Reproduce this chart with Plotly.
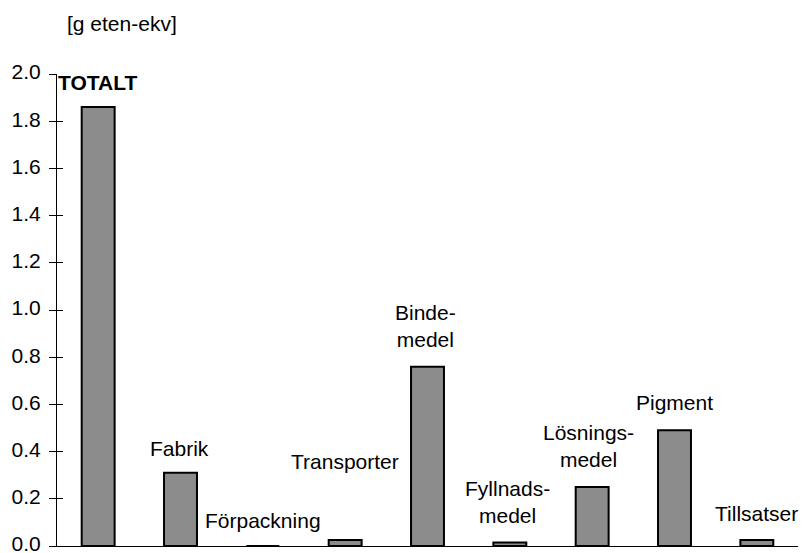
import plotly.graph_objects as go

# Emission contributions per process step [g eten-ekv]
categories = ["TOTALT", "Fabrik", "Förpackning", "Transporter", "Bindemedel",
              "Fyllnadsmedel", "Lösningsmedel", "Pigment", "Tillsatser"]
values = [1.86, 0.31, 0.0, 0.025, 0.76, 0.015, 0.25, 0.49, 0.025]

# Text drawn next to each bar (two-line names split with a hyphen)
bar_labels = ["<b>TOTALT</b>", "Fabrik", "Förpackning", "Transporter",
              "Binde-<br>medel", "Fyllnads-<br>medel", "Lösnings-<br>medel",
              "Pigment", "Tillsatser"]
label_y = [1.962, 0.415, 0.11, 0.36, 0.934, 0.186, 0.424, 0.606, 0.136]
label_dx = [-1, -1, 0, 0, -2, -2, -4, 0, 0]

y_ticks = [0.0, 0.2, 0.4, 0.6, 0.8, 1.0, 1.2, 1.4, 1.6, 1.8, 2.0]
y_unit = "[g eten-ekv]"

FONT = "Liberation Sans, Arial, sans-serif"
FSIZE = 21

fig = go.Figure()
fig.add_trace(go.Bar(
    x=categories, y=values,
    marker=dict(color="#8c8c8c", line=dict(color="black", width=2)),
    width=0.4,
    showlegend=False,
    hoverinfo="x+y",
))

for cat, txt, ly, dx in zip(categories, bar_labels, label_y, label_dx):
    fig.add_annotation(
        x=cat, y=ly, xref="x", yref="y", text=txt, showarrow=False,
        xanchor="center", yanchor="middle", xshift=dx,
        font=dict(family=FONT, size=FSIZE, color="black"),
    )

fig.add_annotation(
    x=0.088, y=1.106, xref="paper", yref="paper", text=y_unit,
    showarrow=False, xanchor="center", yanchor="middle",
    font=dict(family=FONT, size=FSIZE, color="black"),
)

fig.update_layout(
    width=802, height=553,
    margin=dict(l=57, r=4, t=74, b=7),
    paper_bgcolor="white", plot_bgcolor="white",
    font=dict(family=FONT, size=FSIZE, color="black"),
    xaxis=dict(
        showline=True, linecolor="black", linewidth=1,
        showticklabels=False, ticks="", showgrid=False, zeroline=False,
        range=[-0.5, len(categories) - 0.5], automargin=False,
    ),
    yaxis=dict(
        range=[0, 2.0], tickvals=y_ticks,
        ticktext=[f"{v:.1f}" for v in y_ticks],
        ticks="outside", ticklen=7, tickcolor="black", tickwidth=1,
        showline=True, linecolor="black", linewidth=1,
        showgrid=False, zeroline=False, automargin=False,
        ticklabeloverflow="allow", ticklabelstandoff=4, ticklabelshift=-2,
        tickfont=dict(family=FONT, size=FSIZE, color="black"),
    ),
    # Second y-axis supplies the inner half of the crossing tick marks
    yaxis2=dict(
        overlaying="y", side="left", range=[0, 2.0], tickvals=y_ticks,
        ticks="inside", ticklen=6, tickcolor="black", tickwidth=1,
        showticklabels=False, showline=False, showgrid=False, zeroline=False,
        automargin=False,
    ),
)

# An invisible trace keeps the second y-axis active
fig.add_trace(go.Scatter(x=[categories[0]], y=[0], yaxis="y2", mode="markers",
                         marker=dict(opacity=0), showlegend=False,
                         hoverinfo="skip"))

fig.write_html("out.html")
